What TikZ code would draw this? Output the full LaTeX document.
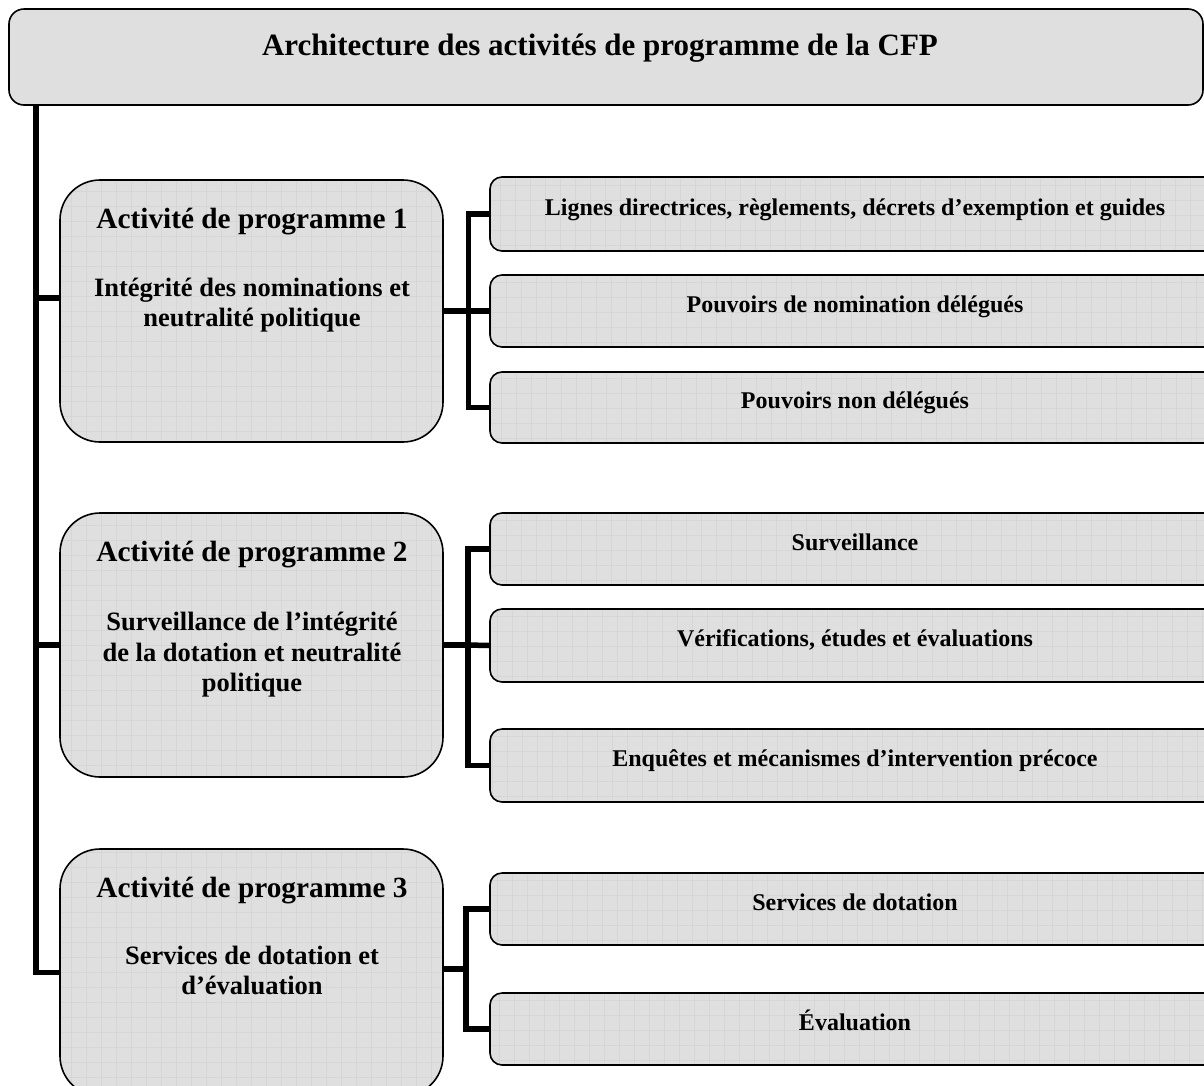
\documentclass[tikz,border=0pt]{standalone}
\usepackage{fontspec}
\setmainfont{Liberation Serif}
\definecolor{boxfill}{RGB}{223,223,223}
\definecolor{gridc}{RGB}{214,214,214}
\begin{document}
\begin{tikzpicture}[x=1pt,y=-1pt,
  conn/.style={line width=5.5pt},
  gridbox/.style={draw=black, line width=1.6pt, fill=boxfill,
    path picture={\draw[gridc, line width=0.5pt, step=15pt]
      (path picture bounding box.south west) grid (path picture bounding box.north east);}},
  actbox/.style={gridbox, rounded corners=40pt, minimum width=383pt, inner sep=0pt},
  childbox/.style={gridbox, rounded corners=12pt, minimum width=730pt, inner sep=0pt,
    font=\fontsize{24}{28}\selectfont\bfseries, text height=18pt, text depth=16pt},
  headtxt/.style={anchor=base, inner sep=0pt, font=\fontsize{29.3}{34}\selectfont\bfseries},
  subtxt/.style={anchor=base, inner sep=0pt, font=\fontsize{26.5}{30}\selectfont\bfseries},
]
\useasboundingbox (0,0) rectangle (1204,1085);
\clip (0,0) rectangle (1204,1085);

% title
\node[draw=black, line width=1.6pt, fill=boxfill, rounded corners=15pt,
      minimum width=1194pt, minimum height=96pt, inner sep=0pt] (title) at (606,57) {};
\node[anchor=base, inner sep=0pt, font=\fontsize{31}{36}\selectfont\bfseries] (titletxt) at (600,55)
  {Architecture des activités de programme de la CFP};

% activity boxes
\node[actbox, minimum height=262pt] (a1) at (251.5,311) {};
\node[actbox, minimum height=264pt] (a2) at (251.5,645) {};
\node[actbox, minimum height=247pt] (a3) at (251.5,972.5) {};

\node[headtxt] (h1) at (252,228) {Activité de programme 1};
\node[subtxt] (s1a) at (252,296) {Intégrité des nominations et};
\node[subtxt] (s1b) at (252,326) {neutralité politique};

\node[headtxt] (h2) at (252,561) {Activité de programme 2};
\node[subtxt] (s2a) at (252,630) {Surveillance de l’intégrité};
\node[subtxt] (s2b) at (252,661) {de la dotation et neutralité};
\node[subtxt] (s2c) at (252,691) {politique};

\node[headtxt] (h3) at (252,897) {Activité de programme 3};
\node[subtxt] (s3a) at (252,964) {Services de dotation et};
\node[subtxt] (s3b) at (252,994) {d’évaluation};

% child boxes
\node[childbox, minimum height=74pt] (c11) at (855,214) {Lignes directrices, règlements, décrets d’exemption et guides};
\node[childbox, minimum height=72pt] (c12) at (855,311) {Pouvoirs de nomination délégués};
\node[childbox, minimum height=71pt] (c13) at (855,407.5) {Pouvoirs non délégués};

\node[childbox, minimum height=72pt] (c21) at (855,549) {Surveillance};
\node[childbox, minimum height=73pt] (c22) at (855,645.5) {Vérifications, études et évaluations};
\node[childbox, minimum height=73pt] (c23) at (855,765.5) {Enquêtes et mécanismes d’intervention précoce};

\node[childbox, minimum height=72pt] (c31) at (855,909) {Services de dotation};
\node[childbox, minimum height=72pt] (c32) at (855,1029) {Évaluation};

% trunk
\coordinate (tk) at (36,105);
\draw[conn] (tk) |- (a3.west);
\draw[conn] (tk |- 0,298) -- (a1.west |- 0,298);
\draw[conn] (tk |- a2.west) -- (a2.west);

% brackets
\draw[conn] (a1.east) -- ++(24.5,0) coordinate (k1);
\draw[conn] (c11.west) -| (k1) |- (c13.west);
\draw[conn] (k1) -- (c12.west);

\draw[conn] (a2.east) -- ++(24,0) coordinate (k2);
\draw[conn] (c21.west) -| (k2) |- (c23.west);
\draw[conn] (k2) -- (c22.west);

\draw[conn] (a3.east |- 0,969) -- ++(22,0) coordinate (k3);
\draw[conn] (c31.west) -| (k3) |- (c32.west);
\end{tikzpicture}
\end{document}
